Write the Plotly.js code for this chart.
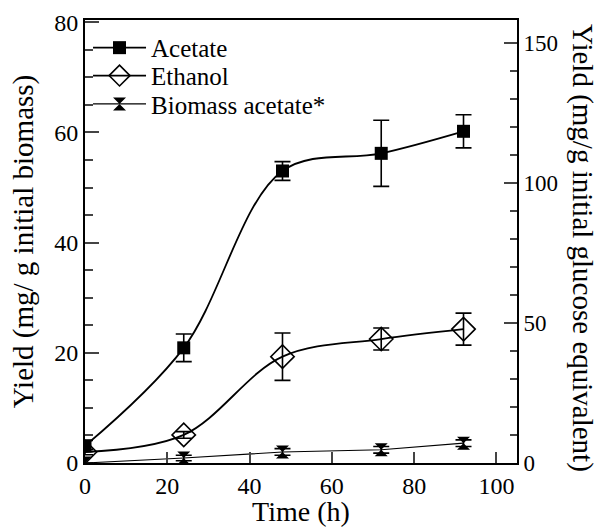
<!DOCTYPE html>
<html><head><meta charset="utf-8">
<script src="https://cdn.plot.ly/plotly-3.0.1.min.js"></script>
</head><body style="margin:0;background:#fff">
<div id="chart" style="width:598px;height:527px"></div>
<script>
const timeH = [0, 24, 48, 72, 92];
const acetate = [3.1, 20.9, 53.0, 56.2, 60.2];
const acetateErr = [1.0, 2.5, 1.7, 6.0, 3.0];
const ethanol = [2.0, 5.1, 19.3, 22.5, 24.3];
const ethanolErr = [0.5, 0.6, 4.3, 2.0, 2.9];
const biomassTime = [0, 24, 48, 72, 92];
const biomassAcetate = [0, 0.9, 2.0, 2.4, 3.6];
const biomassErr = [0, 0.5, 0.6, 0.6, 0.6];
const rightTicks = [0, 50, 100, 150];

function fnt(s) { return {family: 'Liberation Serif', size: s, color: '#000'}; }
function eb(arr) { return {type: 'data', array: arr, visible: true, color: '#000', thickness: 1.6, width: 8}; }

function buildTraces() {
  return [
    {x: timeH, y: acetate, name: 'Acetate', legend: 'legend', mode: 'lines+markers', error_y: eb(acetateErr),
     line: {color: '#000', width: 1.8, shape: 'spline', smoothing: 1},
     marker: {symbol: 'square', size: 13, color: '#000'}},
    {x: timeH, y: ethanol, name: 'Ethanol', legend: 'legend2', mode: 'lines+markers', error_y: eb(ethanolErr),
     line: {color: '#000', width: 1.8, shape: 'spline', smoothing: 1},
     marker: {symbol: 'diamond-open', size: 18, color: '#000', line: {width: 1.6, color: '#000'}}},
    {x: biomassTime, y: biomassAcetate, name: 'Biomass acetate*', legend: 'legend3', mode: 'lines+markers', error_y: eb(biomassErr),
     line: {color: '#000', width: 1.1},
     marker: {symbol: 'hourglass', size: 13, color: '#000'}},
    {x: [0], y: [0], yaxis: 'y2', showlegend: false, hoverinfo: 'skip', mode: 'markers', marker: {opacity: 0}}
  ];
}

function leg(y) {
  return {x: 0.007, y: y, xanchor: 'left', yanchor: 'middle', bgcolor: 'rgba(0,0,0,0)',
          font: fnt(25), itemwidth: 53, borderwidth: 0};
}

function buildLayout() {
  return {
    width: 598, height: 527,
    margin: {l: 85, r: 81, t: 20, b: 64},
    paper_bgcolor: '#fff', plot_bgcolor: '#fff',
    font: fnt(23),
    showlegend: true,
    legend: leg(0.937), legend2: leg(0.874), legend3: leg(0.810),
    xaxis: {range: [0, 105], tickvals: [0, 20, 40, 60, 80, 100], ticks: 'inside', ticklen: 11, tickwidth: 1.8,
            showline: true, linewidth: 2, linecolor: '#000', mirror: true, showgrid: false, zeroline: false,
            tickfont: fnt(24), title: {text: 'Time (h)', font: fnt(28), standoff: 7}},
    yaxis: {range: [0, 80.4], tickvals: [0, 20, 40, 60, 80], ticks: 'inside', ticklen: 14, tickwidth: 1.8,
            minor: {dtick: 5, ticks: 'inside', ticklen: 8, tickwidth: 1.5, showgrid: false},
            showline: true, linewidth: 2, linecolor: '#000', showgrid: false, zeroline: false,
            tickfont: fnt(24), title: {text: 'Yield (mg/ g initial biomass)', font: fnt(29), standoff: 12}},
    yaxis2: {overlaying: 'y', side: 'right', range: [0, 158.2], tickvals: rightTicks, ticks: 'inside', ticklen: 13, tickwidth: 1.8,
             minor: {dtick: 10, ticks: 'inside', ticklen: 7, tickwidth: 1.5, showgrid: false},
             showline: true, linewidth: 2, linecolor: '#000', showgrid: false, zeroline: false,
             tickfont: fnt(23)},
    annotations: [{text: 'Yield (mg/g initial glucose equivalent)', xref: 'paper', yref: 'paper',
                   x: 1.153, y: 0.485, xanchor: 'center', yanchor: 'middle', textangle: 90,
                   showarrow: false, font: fnt(29)}]
  };
}

function draw() {
  Plotly.newPlot('chart', buildTraces(), buildLayout(), {displayModeBar: false});
}

draw();
if (document.fonts && document.fonts.load) {
  document.fonts.load('25px "Liberation Serif"', 'Acetate 0123456789').then(draw, function () {});
}
</script>
</body></html>
